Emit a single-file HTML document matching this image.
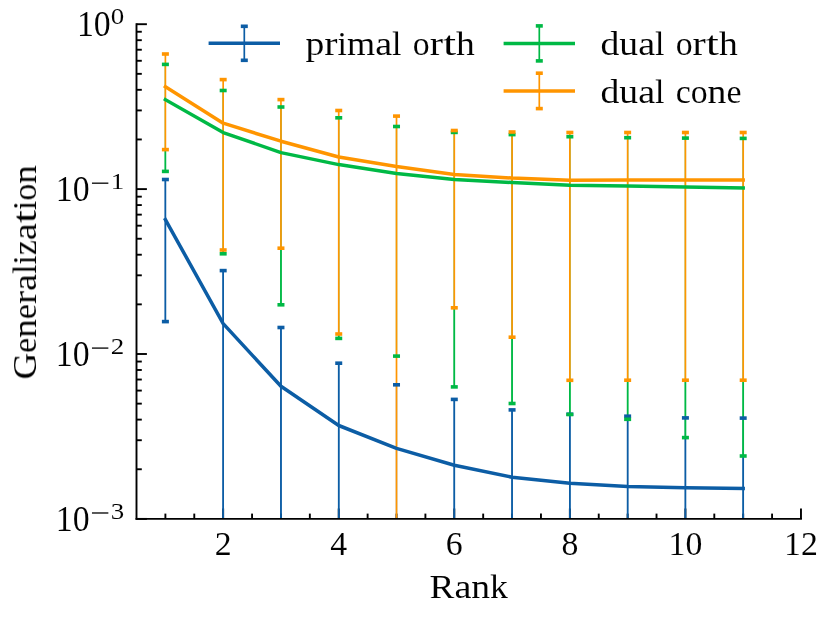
<!DOCTYPE html>
<html><head><meta charset="utf-8"><title>Generalization vs Rank</title>
<style>html,body{margin:0;padding:0;background:#fff;}body{width:830px;height:617px;overflow:hidden;font-family:"Liberation Serif",serif;}svg{display:block;}</style>
</head><body>
<svg width="830" height="617" viewBox="0 0 830 617" font-family="Liberation Serif, serif" fill="#000">
<rect width="830" height="617" fill="#fff"/>
<g id="ticks" stroke="#000" stroke-width="1.9" stroke-linecap="butt">
<line x1="165.39" y1="518.90" x2="165.39" y2="513.60"/>
<line x1="194.28" y1="518.90" x2="194.28" y2="513.60"/>
<line x1="223.17" y1="518.90" x2="223.17" y2="508.50"/>
<line x1="252.06" y1="518.90" x2="252.06" y2="513.60"/>
<line x1="280.95" y1="518.90" x2="280.95" y2="513.60"/>
<line x1="309.84" y1="518.90" x2="309.84" y2="513.60"/>
<line x1="338.73" y1="518.90" x2="338.73" y2="508.50"/>
<line x1="367.62" y1="518.90" x2="367.62" y2="513.60"/>
<line x1="396.51" y1="518.90" x2="396.51" y2="513.60"/>
<line x1="425.40" y1="518.90" x2="425.40" y2="513.60"/>
<line x1="454.29" y1="518.90" x2="454.29" y2="508.50"/>
<line x1="483.18" y1="518.90" x2="483.18" y2="513.60"/>
<line x1="512.07" y1="518.90" x2="512.07" y2="513.60"/>
<line x1="540.96" y1="518.90" x2="540.96" y2="513.60"/>
<line x1="569.85" y1="518.90" x2="569.85" y2="508.50"/>
<line x1="598.74" y1="518.90" x2="598.74" y2="513.60"/>
<line x1="627.63" y1="518.90" x2="627.63" y2="513.60"/>
<line x1="656.52" y1="518.90" x2="656.52" y2="513.60"/>
<line x1="685.41" y1="518.90" x2="685.41" y2="508.50"/>
<line x1="714.30" y1="518.90" x2="714.30" y2="513.60"/>
<line x1="743.19" y1="518.90" x2="743.19" y2="513.60"/>
<line x1="772.08" y1="518.90" x2="772.08" y2="513.60"/>
<line x1="800.97" y1="518.90" x2="800.97" y2="508.50"/>
<line x1="136.50" y1="24.20" x2="146.90" y2="24.20"/>
<line x1="136.50" y1="189.10" x2="146.90" y2="189.10"/>
<line x1="136.50" y1="354.00" x2="146.90" y2="354.00"/>
<line x1="136.50" y1="518.90" x2="146.90" y2="518.90"/>
<line x1="136.50" y1="469.26" x2="141.80" y2="469.26"/>
<line x1="136.50" y1="440.22" x2="141.80" y2="440.22"/>
<line x1="136.50" y1="419.62" x2="141.80" y2="419.62"/>
<line x1="136.50" y1="403.64" x2="141.80" y2="403.64"/>
<line x1="136.50" y1="390.58" x2="141.80" y2="390.58"/>
<line x1="136.50" y1="379.54" x2="141.80" y2="379.54"/>
<line x1="136.50" y1="369.98" x2="141.80" y2="369.98"/>
<line x1="136.50" y1="361.55" x2="141.80" y2="361.55"/>
<line x1="136.50" y1="304.36" x2="141.80" y2="304.36"/>
<line x1="136.50" y1="275.32" x2="141.80" y2="275.32"/>
<line x1="136.50" y1="254.72" x2="141.80" y2="254.72"/>
<line x1="136.50" y1="238.74" x2="141.80" y2="238.74"/>
<line x1="136.50" y1="225.68" x2="141.80" y2="225.68"/>
<line x1="136.50" y1="214.64" x2="141.80" y2="214.64"/>
<line x1="136.50" y1="205.08" x2="141.80" y2="205.08"/>
<line x1="136.50" y1="196.65" x2="141.80" y2="196.65"/>
<line x1="136.50" y1="139.46" x2="141.80" y2="139.46"/>
<line x1="136.50" y1="110.42" x2="141.80" y2="110.42"/>
<line x1="136.50" y1="89.82" x2="141.80" y2="89.82"/>
<line x1="136.50" y1="73.84" x2="141.80" y2="73.84"/>
<line x1="136.50" y1="60.78" x2="141.80" y2="60.78"/>
<line x1="136.50" y1="49.74" x2="141.80" y2="49.74"/>
<line x1="136.50" y1="40.18" x2="141.80" y2="40.18"/>
<line x1="136.50" y1="31.75" x2="141.80" y2="31.75"/>
</g>
<g id="bars">
<line x1="165.39" y1="179.50" x2="165.39" y2="321.60" stroke="#0C5DA5" stroke-width="1.25"/>
<line x1="165.39" y1="179.50" x2="165.39" y2="321.60" stroke="#0C5DA5" stroke-width="1.7"/>
<line x1="165.39" y1="64.40" x2="165.39" y2="171.40" stroke="#00B945" stroke-width="1.25"/>
<line x1="165.39" y1="149.60" x2="165.39" y2="171.40" stroke="#00B945" stroke-width="1.7"/>
<line x1="165.39" y1="54.00" x2="165.39" y2="149.60" stroke="#FF9500" stroke-width="1.7"/>
<line x1="223.17" y1="270.60" x2="223.17" y2="518.90" stroke="#0C5DA5" stroke-width="1.25"/>
<line x1="223.17" y1="270.60" x2="223.17" y2="518.90" stroke="#0C5DA5" stroke-width="1.7"/>
<line x1="223.17" y1="90.50" x2="223.17" y2="253.80" stroke="#00B945" stroke-width="1.25"/>
<line x1="223.17" y1="250.00" x2="223.17" y2="253.80" stroke="#00B945" stroke-width="1.7"/>
<line x1="223.17" y1="79.60" x2="223.17" y2="250.00" stroke="#FF9500" stroke-width="1.7"/>
<line x1="280.95" y1="327.50" x2="280.95" y2="518.90" stroke="#0C5DA5" stroke-width="1.25"/>
<line x1="280.95" y1="327.50" x2="280.95" y2="518.90" stroke="#0C5DA5" stroke-width="1.7"/>
<line x1="280.95" y1="107.00" x2="280.95" y2="304.80" stroke="#00B945" stroke-width="1.25"/>
<line x1="280.95" y1="248.20" x2="280.95" y2="304.80" stroke="#00B945" stroke-width="1.7"/>
<line x1="280.95" y1="99.60" x2="280.95" y2="248.20" stroke="#FF9500" stroke-width="1.7"/>
<line x1="338.73" y1="363.20" x2="338.73" y2="518.90" stroke="#0C5DA5" stroke-width="1.25"/>
<line x1="338.73" y1="363.20" x2="338.73" y2="518.90" stroke="#0C5DA5" stroke-width="1.7"/>
<line x1="338.73" y1="117.80" x2="338.73" y2="338.40" stroke="#00B945" stroke-width="1.25"/>
<line x1="338.73" y1="334.00" x2="338.73" y2="338.40" stroke="#00B945" stroke-width="1.7"/>
<line x1="338.73" y1="110.50" x2="338.73" y2="334.00" stroke="#FF9500" stroke-width="1.7"/>
<line x1="396.51" y1="384.80" x2="396.51" y2="518.90" stroke="#0C5DA5" stroke-width="1.25"/>
<line x1="396.51" y1="126.50" x2="396.51" y2="356.10" stroke="#00B945" stroke-width="1.25"/>
<line x1="396.51" y1="116.10" x2="396.51" y2="518.90" stroke="#FF9500" stroke-width="1.7"/>
<line x1="454.29" y1="399.40" x2="454.29" y2="518.90" stroke="#0C5DA5" stroke-width="1.25"/>
<line x1="454.29" y1="399.40" x2="454.29" y2="518.90" stroke="#0C5DA5" stroke-width="1.7"/>
<line x1="454.29" y1="132.40" x2="454.29" y2="386.90" stroke="#00B945" stroke-width="1.25"/>
<line x1="454.29" y1="307.80" x2="454.29" y2="386.90" stroke="#00B945" stroke-width="1.7"/>
<line x1="454.29" y1="130.50" x2="454.29" y2="307.80" stroke="#FF9500" stroke-width="1.7"/>
<line x1="512.07" y1="409.90" x2="512.07" y2="518.90" stroke="#0C5DA5" stroke-width="1.25"/>
<line x1="512.07" y1="409.90" x2="512.07" y2="518.90" stroke="#0C5DA5" stroke-width="1.7"/>
<line x1="512.07" y1="134.60" x2="512.07" y2="403.50" stroke="#00B945" stroke-width="1.25"/>
<line x1="512.07" y1="337.20" x2="512.07" y2="403.50" stroke="#00B945" stroke-width="1.7"/>
<line x1="512.07" y1="132.00" x2="512.07" y2="337.20" stroke="#FF9500" stroke-width="1.7"/>
<line x1="569.85" y1="414.20" x2="569.85" y2="518.90" stroke="#0C5DA5" stroke-width="1.25"/>
<line x1="569.85" y1="414.50" x2="569.85" y2="518.90" stroke="#0C5DA5" stroke-width="1.7"/>
<line x1="569.85" y1="136.70" x2="569.85" y2="414.50" stroke="#00B945" stroke-width="1.25"/>
<line x1="569.85" y1="380.30" x2="569.85" y2="414.50" stroke="#00B945" stroke-width="1.7"/>
<line x1="569.85" y1="132.50" x2="569.85" y2="380.30" stroke="#FF9500" stroke-width="1.7"/>
<line x1="627.63" y1="416.20" x2="627.63" y2="518.90" stroke="#0C5DA5" stroke-width="1.25"/>
<line x1="627.63" y1="419.30" x2="627.63" y2="518.90" stroke="#0C5DA5" stroke-width="1.7"/>
<line x1="627.63" y1="137.70" x2="627.63" y2="419.30" stroke="#00B945" stroke-width="1.25"/>
<line x1="627.63" y1="380.20" x2="627.63" y2="419.30" stroke="#00B945" stroke-width="1.7"/>
<line x1="627.63" y1="132.50" x2="627.63" y2="380.20" stroke="#FF9500" stroke-width="1.7"/>
<line x1="685.41" y1="417.90" x2="685.41" y2="518.90" stroke="#0C5DA5" stroke-width="1.25"/>
<line x1="685.41" y1="437.60" x2="685.41" y2="518.90" stroke="#0C5DA5" stroke-width="1.7"/>
<line x1="685.41" y1="138.10" x2="685.41" y2="437.60" stroke="#00B945" stroke-width="1.25"/>
<line x1="685.41" y1="380.20" x2="685.41" y2="437.60" stroke="#00B945" stroke-width="1.7"/>
<line x1="685.41" y1="132.50" x2="685.41" y2="380.20" stroke="#FF9500" stroke-width="1.7"/>
<line x1="743.19" y1="418.10" x2="743.19" y2="518.90" stroke="#0C5DA5" stroke-width="1.25"/>
<line x1="743.19" y1="456.00" x2="743.19" y2="518.90" stroke="#0C5DA5" stroke-width="1.7"/>
<line x1="743.19" y1="138.40" x2="743.19" y2="456.00" stroke="#00B945" stroke-width="1.25"/>
<line x1="743.19" y1="380.20" x2="743.19" y2="456.00" stroke="#00B945" stroke-width="1.7"/>
<line x1="743.19" y1="132.50" x2="743.19" y2="380.20" stroke="#FF9500" stroke-width="1.7"/>
</g>
<g id="series">
<polyline points="165.39,219.60 223.17,323.60 280.95,386.30 338.73,425.50 396.51,448.40 454.29,465.30 512.07,477.20 569.85,483.20 627.63,486.60 685.41,487.80 743.19,488.50" fill="none" stroke="#0C5DA5" stroke-width="3.5" stroke-linecap="square" stroke-linejoin="round"/>
<rect x="161.89" y="177.70" width="7.0" height="3.6" fill="#0C5DA5"/>
<rect x="161.89" y="319.80" width="7.0" height="3.6" fill="#0C5DA5"/>
<rect x="219.67" y="268.80" width="7.0" height="3.6" fill="#0C5DA5"/>
<rect x="277.45" y="325.70" width="7.0" height="3.6" fill="#0C5DA5"/>
<rect x="335.23" y="361.40" width="7.0" height="3.6" fill="#0C5DA5"/>
<rect x="393.01" y="383.00" width="7.0" height="3.6" fill="#0C5DA5"/>
<rect x="450.79" y="397.60" width="7.0" height="3.6" fill="#0C5DA5"/>
<rect x="508.57" y="408.10" width="7.0" height="3.6" fill="#0C5DA5"/>
<rect x="566.35" y="412.40" width="7.0" height="3.6" fill="#0C5DA5"/>
<rect x="624.13" y="414.40" width="7.0" height="3.6" fill="#0C5DA5"/>
<rect x="681.91" y="416.10" width="7.0" height="3.6" fill="#0C5DA5"/>
<rect x="739.69" y="416.30" width="7.0" height="3.6" fill="#0C5DA5"/>
<polyline points="165.39,99.70 223.17,132.60 280.95,152.60 338.73,164.60 396.51,173.50 454.29,179.40 512.07,182.50 569.85,185.20 627.63,185.90 685.41,187.00 743.19,188.00" fill="none" stroke="#00B945" stroke-width="3.5" stroke-linecap="square" stroke-linejoin="round"/>
<rect x="161.89" y="62.60" width="7.0" height="3.6" fill="#00B945"/>
<rect x="161.89" y="169.60" width="7.0" height="3.6" fill="#00B945"/>
<rect x="219.67" y="88.70" width="7.0" height="3.6" fill="#00B945"/>
<rect x="219.67" y="252.00" width="7.0" height="3.6" fill="#00B945"/>
<rect x="277.45" y="105.20" width="7.0" height="3.6" fill="#00B945"/>
<rect x="277.45" y="303.00" width="7.0" height="3.6" fill="#00B945"/>
<rect x="335.23" y="116.00" width="7.0" height="3.6" fill="#00B945"/>
<rect x="335.23" y="336.60" width="7.0" height="3.6" fill="#00B945"/>
<rect x="393.01" y="124.70" width="7.0" height="3.6" fill="#00B945"/>
<rect x="393.01" y="354.30" width="7.0" height="3.6" fill="#00B945"/>
<rect x="450.79" y="130.60" width="7.0" height="3.6" fill="#00B945"/>
<rect x="450.79" y="385.10" width="7.0" height="3.6" fill="#00B945"/>
<rect x="508.57" y="132.80" width="7.0" height="3.6" fill="#00B945"/>
<rect x="508.57" y="401.70" width="7.0" height="3.6" fill="#00B945"/>
<rect x="566.35" y="134.90" width="7.0" height="3.6" fill="#00B945"/>
<rect x="566.35" y="412.70" width="7.0" height="3.6" fill="#00B945"/>
<rect x="624.13" y="135.90" width="7.0" height="3.6" fill="#00B945"/>
<rect x="624.13" y="417.50" width="7.0" height="3.6" fill="#00B945"/>
<rect x="681.91" y="136.30" width="7.0" height="3.6" fill="#00B945"/>
<rect x="681.91" y="435.80" width="7.0" height="3.6" fill="#00B945"/>
<rect x="739.69" y="136.60" width="7.0" height="3.6" fill="#00B945"/>
<rect x="739.69" y="454.20" width="7.0" height="3.6" fill="#00B945"/>
<polyline points="165.39,86.80 223.17,123.20 280.95,141.20 338.73,157.00 396.51,166.40 454.29,174.40 512.07,178.10 569.85,180.20 627.63,180.10 685.41,180.05 743.19,180.05" fill="none" stroke="#FF9500" stroke-width="3.5" stroke-linecap="square" stroke-linejoin="round"/>
<rect x="161.89" y="52.20" width="7.0" height="3.6" fill="#FF9500"/>
<rect x="161.89" y="147.80" width="7.0" height="3.6" fill="#FF9500"/>
<rect x="219.67" y="77.80" width="7.0" height="3.6" fill="#FF9500"/>
<rect x="219.67" y="248.20" width="7.0" height="3.6" fill="#FF9500"/>
<rect x="277.45" y="97.80" width="7.0" height="3.6" fill="#FF9500"/>
<rect x="277.45" y="246.40" width="7.0" height="3.6" fill="#FF9500"/>
<rect x="335.23" y="108.70" width="7.0" height="3.6" fill="#FF9500"/>
<rect x="335.23" y="332.20" width="7.0" height="3.6" fill="#FF9500"/>
<rect x="393.01" y="114.30" width="7.0" height="3.6" fill="#FF9500"/>
<rect x="450.79" y="128.70" width="7.0" height="3.6" fill="#FF9500"/>
<rect x="450.79" y="306.00" width="7.0" height="3.6" fill="#FF9500"/>
<rect x="508.57" y="130.20" width="7.0" height="3.6" fill="#FF9500"/>
<rect x="508.57" y="335.40" width="7.0" height="3.6" fill="#FF9500"/>
<rect x="566.35" y="130.70" width="7.0" height="3.6" fill="#FF9500"/>
<rect x="566.35" y="378.50" width="7.0" height="3.6" fill="#FF9500"/>
<rect x="624.13" y="130.70" width="7.0" height="3.6" fill="#FF9500"/>
<rect x="624.13" y="378.40" width="7.0" height="3.6" fill="#FF9500"/>
<rect x="681.91" y="130.70" width="7.0" height="3.6" fill="#FF9500"/>
<rect x="681.91" y="378.40" width="7.0" height="3.6" fill="#FF9500"/>
<rect x="739.69" y="130.70" width="7.0" height="3.6" fill="#FF9500"/>
<rect x="739.69" y="378.40" width="7.0" height="3.6" fill="#FF9500"/>
</g>
<g id="axes" stroke="#000" stroke-width="1.9" stroke-linecap="square" fill="none">
<line x1="136.50" y1="24.20" x2="136.50" y2="518.90"/>
<line x1="136.50" y1="518.90" x2="800.97" y2="518.90"/>
</g>
<g id="legend">
<line x1="244.30" y1="26.30" x2="244.30" y2="60.30" stroke="#0C5DA5" stroke-width="1.7"/>
<line x1="208.60" y1="43.30" x2="280.00" y2="43.30" stroke="#0C5DA5" stroke-width="3.5"/>
<rect x="240.80" y="24.50" width="7.0" height="3.6" fill="#0C5DA5"/>
<rect x="240.80" y="58.50" width="7.0" height="3.6" fill="#0C5DA5"/>
<line x1="539.30" y1="25.90" x2="539.30" y2="60.90" stroke="#00B945" stroke-width="1.7"/>
<line x1="503.60" y1="43.40" x2="575.00" y2="43.40" stroke="#00B945" stroke-width="3.5"/>
<rect x="535.80" y="24.10" width="7.0" height="3.6" fill="#00B945"/>
<rect x="535.80" y="59.10" width="7.0" height="3.6" fill="#00B945"/>
<line x1="539.30" y1="73.20" x2="539.30" y2="108.60" stroke="#FF9500" stroke-width="1.7"/>
<line x1="503.60" y1="90.90" x2="575.00" y2="90.90" stroke="#FF9500" stroke-width="3.5"/>
<rect x="535.80" y="71.40" width="7.0" height="3.6" fill="#FF9500"/>
<rect x="535.80" y="106.80" width="7.0" height="3.6" fill="#FF9500"/>
</g>
<g id="text" font-size="33.3" stroke="#fff" stroke-width="0.06" opacity="0.999">
<g id="legend-labels">
<text x="305.60" y="54.8" font-size="33.2" textLength="18.79" lengthAdjust="spacingAndGlyphs">p</text>
<text x="324.39" y="54.8" font-size="33.2" textLength="13.25" lengthAdjust="spacingAndGlyphs">r</text>
<text x="337.64" y="54.8" font-size="33.2" textLength="9.40" lengthAdjust="spacingAndGlyphs">i</text>
<text x="347.04" y="54.8" font-size="33.2" textLength="28.16" lengthAdjust="spacingAndGlyphs">m</text>
<text x="375.19" y="54.8" font-size="33.2" textLength="16.90" lengthAdjust="spacingAndGlyphs">a</text>
<text x="392.09" y="54.8" font-size="33.2" textLength="9.40" lengthAdjust="spacingAndGlyphs">l</text>
<text x="412.75" y="54.8" font-size="33.2" textLength="16.90" lengthAdjust="spacingAndGlyphs">o</text>
<text x="429.65" y="54.8" font-size="33.2" textLength="13.25" lengthAdjust="spacingAndGlyphs">r</text>
<text x="442.90" y="54.8" font-size="33.2" textLength="13.15" lengthAdjust="spacingAndGlyphs">t</text>
<text x="456.04" y="54.8" font-size="33.2" textLength="18.79" lengthAdjust="spacingAndGlyphs">h</text>
<text x="600.60" y="55.0" font-size="33.2" textLength="18.79" lengthAdjust="spacingAndGlyphs">d</text>
<text x="619.39" y="55.0" font-size="33.2" textLength="18.79" lengthAdjust="spacingAndGlyphs">u</text>
<text x="638.19" y="55.0" font-size="33.2" textLength="16.90" lengthAdjust="spacingAndGlyphs">a</text>
<text x="655.09" y="55.0" font-size="33.2" textLength="9.40" lengthAdjust="spacingAndGlyphs">l</text>
<text x="675.74" y="55.0" font-size="33.2" textLength="16.90" lengthAdjust="spacingAndGlyphs">o</text>
<text x="692.64" y="55.0" font-size="33.2" textLength="13.25" lengthAdjust="spacingAndGlyphs">r</text>
<text x="705.89" y="55.0" font-size="33.2" textLength="13.15" lengthAdjust="spacingAndGlyphs">t</text>
<text x="719.04" y="55.0" font-size="33.2" textLength="18.79" lengthAdjust="spacingAndGlyphs">h</text>
<text x="600.60" y="102.6" font-size="33.2" textLength="18.79" lengthAdjust="spacingAndGlyphs">d</text>
<text x="619.39" y="102.6" font-size="33.2" textLength="18.79" lengthAdjust="spacingAndGlyphs">u</text>
<text x="638.19" y="102.6" font-size="33.2" textLength="16.90" lengthAdjust="spacingAndGlyphs">a</text>
<text x="655.09" y="102.6" font-size="33.2" textLength="9.40" lengthAdjust="spacingAndGlyphs">l</text>
<text x="675.74" y="102.6" font-size="33.2" textLength="15.01" lengthAdjust="spacingAndGlyphs">c</text>
<text x="690.74" y="102.6" font-size="33.2" textLength="16.90" lengthAdjust="spacingAndGlyphs">o</text>
<text x="707.64" y="102.6" font-size="33.2" textLength="18.79" lengthAdjust="spacingAndGlyphs">n</text>
<text x="726.44" y="102.6" font-size="33.2" textLength="15.01" lengthAdjust="spacingAndGlyphs">e</text>
</g>
<g id="xticklabels">
<text x="214.72" y="554.5" font-size="33.4" textLength="16.90" lengthAdjust="spacingAndGlyphs">2</text>
<text x="330.28" y="554.5" font-size="33.4" textLength="16.90" lengthAdjust="spacingAndGlyphs">4</text>
<text x="445.84" y="554.5" font-size="33.4" textLength="16.90" lengthAdjust="spacingAndGlyphs">6</text>
<text x="561.40" y="554.5" font-size="33.4" textLength="16.90" lengthAdjust="spacingAndGlyphs">8</text>
<text x="668.51" y="554.5" font-size="33.4" textLength="16.90" lengthAdjust="spacingAndGlyphs">1</text>
<text x="685.41" y="554.5" font-size="33.4" textLength="16.90" lengthAdjust="spacingAndGlyphs">0</text>
<text x="784.07" y="554.5" font-size="33.4" textLength="16.90" lengthAdjust="spacingAndGlyphs">1</text>
<text x="800.97" y="554.5" font-size="33.4" textLength="16.90" lengthAdjust="spacingAndGlyphs">2</text>
</g>
<g id="xlabel">
<text x="429.54" y="598.1" font-size="33.3" textLength="24.88" lengthAdjust="spacingAndGlyphs">R</text>
<text x="454.42" y="598.1" font-size="33.3" textLength="16.90" lengthAdjust="spacingAndGlyphs">a</text>
<text x="471.32" y="598.1" font-size="33.3" textLength="18.79" lengthAdjust="spacingAndGlyphs">n</text>
<text x="490.11" y="598.1" font-size="33.3" textLength="17.85" lengthAdjust="spacingAndGlyphs">k</text>
</g>
<g id="ylabel" transform="translate(36,271.4) rotate(-90)">
<text x="-108.00" y="0" font-size="33.3" textLength="26.53" lengthAdjust="spacingAndGlyphs">G</text>
<text x="-81.47" y="0" font-size="33.3" textLength="15.01" lengthAdjust="spacingAndGlyphs">e</text>
<text x="-66.46" y="0" font-size="33.3" textLength="18.79" lengthAdjust="spacingAndGlyphs">n</text>
<text x="-47.67" y="0" font-size="33.3" textLength="15.01" lengthAdjust="spacingAndGlyphs">e</text>
<text x="-32.66" y="0" font-size="33.3" textLength="13.25" lengthAdjust="spacingAndGlyphs">r</text>
<text x="-19.41" y="0" font-size="33.3" textLength="16.90" lengthAdjust="spacingAndGlyphs">a</text>
<text x="-2.51" y="0" font-size="33.3" textLength="9.40" lengthAdjust="spacingAndGlyphs">l</text>
<text x="6.89" y="0" font-size="33.3" textLength="9.40" lengthAdjust="spacingAndGlyphs">i</text>
<text x="16.28" y="0" font-size="33.3" textLength="15.01" lengthAdjust="spacingAndGlyphs">z</text>
<text x="31.29" y="0" font-size="33.3" textLength="16.90" lengthAdjust="spacingAndGlyphs">a</text>
<text x="48.19" y="0" font-size="33.3" textLength="13.15" lengthAdjust="spacingAndGlyphs">t</text>
<text x="61.34" y="0" font-size="33.3" textLength="9.40" lengthAdjust="spacingAndGlyphs">i</text>
<text x="70.73" y="0" font-size="33.3" textLength="16.90" lengthAdjust="spacingAndGlyphs">o</text>
<text x="87.63" y="0" font-size="33.3" textLength="18.79" lengthAdjust="spacingAndGlyphs">n</text>
</g>
<g id="yticklabels">
<text x="76.93" y="36.2" font-size="34.8" textLength="16.90" lengthAdjust="spacingAndGlyphs">1</text>
<text x="93.83" y="36.2" font-size="34.8" textLength="16.90" lengthAdjust="spacingAndGlyphs">0</text>
<text x="110.73" y="24.2" font-size="24.0" textLength="13.47" lengthAdjust="spacingAndGlyphs">0</text>
<text x="55.80" y="201.1" font-size="34.8" textLength="16.90" lengthAdjust="spacingAndGlyphs">1</text>
<text x="72.70" y="201.1" font-size="34.8" textLength="16.90" lengthAdjust="spacingAndGlyphs">0</text>
<rect x="91.96" y="182.53" width="16.40" height="1.3" fill="#000" stroke="none"/>
<text x="110.73" y="189.1" font-size="24.0" textLength="13.47" lengthAdjust="spacingAndGlyphs">1</text>
<text x="55.80" y="366.0" font-size="34.8" textLength="16.90" lengthAdjust="spacingAndGlyphs">1</text>
<text x="72.70" y="366.0" font-size="34.8" textLength="16.90" lengthAdjust="spacingAndGlyphs">0</text>
<rect x="91.96" y="347.44" width="16.40" height="1.3" fill="#000" stroke="none"/>
<text x="110.73" y="354.0" font-size="24.0" textLength="13.47" lengthAdjust="spacingAndGlyphs">2</text>
<text x="55.80" y="530.9" font-size="34.8" textLength="16.90" lengthAdjust="spacingAndGlyphs">1</text>
<text x="72.70" y="530.9" font-size="34.8" textLength="16.90" lengthAdjust="spacingAndGlyphs">0</text>
<rect x="91.96" y="512.34" width="16.40" height="1.3" fill="#000" stroke="none"/>
<text x="110.73" y="518.9" font-size="24.0" textLength="13.47" lengthAdjust="spacingAndGlyphs">3</text>
</g>
</g>
</svg>
</body></html>
